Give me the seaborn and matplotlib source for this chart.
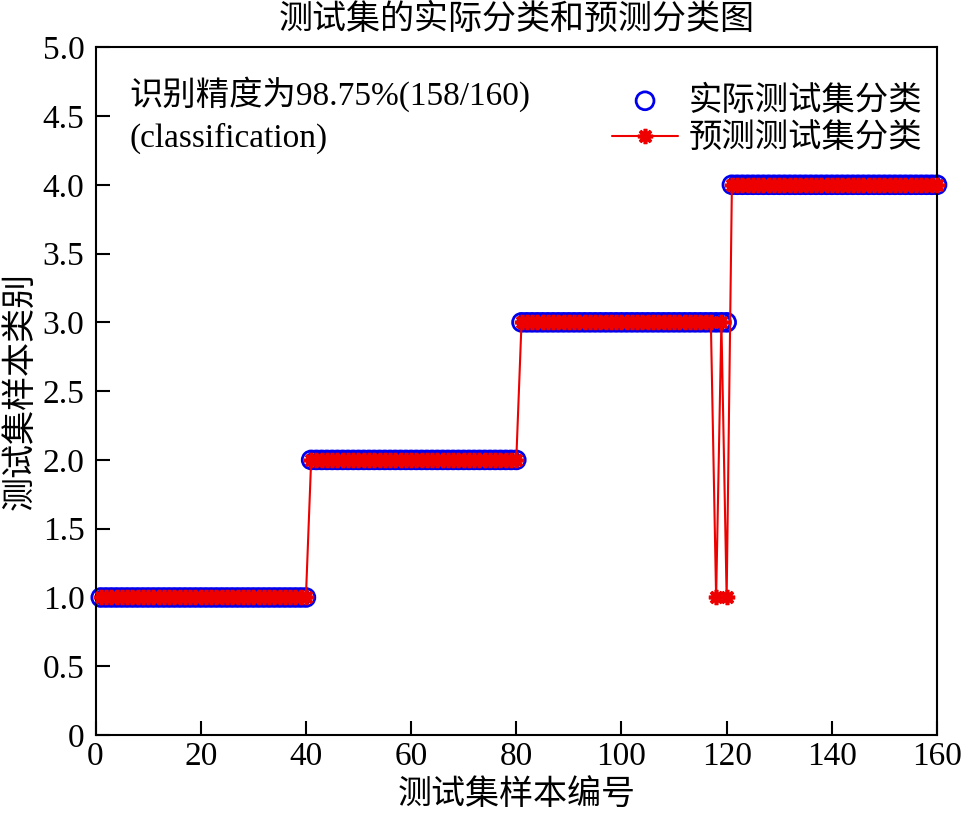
import numpy as np
import pandas as pd
import matplotlib
matplotlib.use('Agg')
import matplotlib.pyplot as plt
import seaborn as sns

# --- veri: test kümesi (160 örnek, 4 sınıf, 40'ar örnek) ---
sample_no = np.arange(1, 161)
class_labels = [1, 2, 3, 4]
class_counts = [40, 40, 40, 40]
actual_class = np.repeat(class_labels, class_counts)

# yanlış sınıflanan örnekler (158/160 doğru)
wrong_samples = [118, 120]
wrong_pred = [1, 1]
pred_class = actual_class.copy()
for s, p in zip(wrong_samples, wrong_pred):
    pred_class[s - 1] = p

df = pd.DataFrame({'no': sample_no, 'actual': actual_class, 'pred': pred_class})

x_ticks = [0, 20, 40, 60, 80, 100, 120, 140, 160]
y_ticks = [0, 0.5, 1.0, 1.5, 2.0, 2.5, 3.0, 3.5, 4.0, 4.5, 5.0]
y_tick_labels = ['0', '0.5', '1.0', '1.5', '2.0', '2.5', '3.0', '3.5', '4.0', '4.5', '5.0']

sns.set_style('white')
plt.rcParams['font.family'] = ['Liberation Serif', 'Noto Sans CJK SC', 'DejaVu Sans']
plt.rcParams['text.color'] = 'black'
plt.rcParams['axes.labelcolor'] = 'black'

fig = plt.figure(figsize=(9.65, 8.14), dpi=100)
ax = fig.add_axes([0.099, 0.097, 0.872, 0.845])

# MATLAB tarzı yıldız (asterisk) işaretçi: 8 kollu
asterisk = (8, 2, 0)

sns.scatterplot(data=df, x='no', y='actual', ax=ax, marker='o', s=165,
                facecolor='none', edgecolor='#0000ee', linewidth=2.0,
                label='实际测试集分类', clip_on=False, zorder=2)
sns.lineplot(data=df, x='no', y='pred', ax=ax, color='#ee0000', linewidth=1.5,
             marker=asterisk, markersize=11, markeredgewidth=2.6,
             markeredgecolor='#ee0000', markerfacecolor='#ee0000',
             label='预测测试集分类', zorder=3, clip_on=False)

ax.set_xlim(0, 160)
ax.set_ylim(0, 5)
ax.set_xticks(x_ticks)
ax.set_xticklabels([str(t) for t in x_ticks])
ax.set_yticks(y_ticks)
ax.set_yticklabels(y_tick_labels)
ax.tick_params(direction='in', length=10, width=1.5, labelsize=24, colors='black',
               left=True, bottom=True, top=False, right=False, pad=5)
ax.tick_params(axis='y', pad=8)
for sp in ax.spines.values():
    sp.set_color('black')
    sp.set_linewidth(1.5)

ax.set_xlabel('测试集样本编号', fontsize=24.5, labelpad=5)
ax.set_ylabel('测试集样本类别', fontsize=24.5, labelpad=4)
ax.set_title('测试集的实际分类和预测分类图', fontsize=24.5, pad=13)

ax.text(0.04, 0.958, '识别精度为98.75%(158/160)\n(classification)', transform=ax.transAxes,
        fontsize=24, va='top', ha='left', linespacing=1.45)

# legend: nokta ve yıldızlı çizgi, çerçevesiz
leg = ax.legend(loc='upper right', frameon=False, fontsize=24, handlelength=2.0,
                handletextpad=0.3, borderaxespad=0.0, labelspacing=0.2,
                bbox_to_anchor=(0.998, 0.964))

fig.savefig('out.png', dpi=100)
